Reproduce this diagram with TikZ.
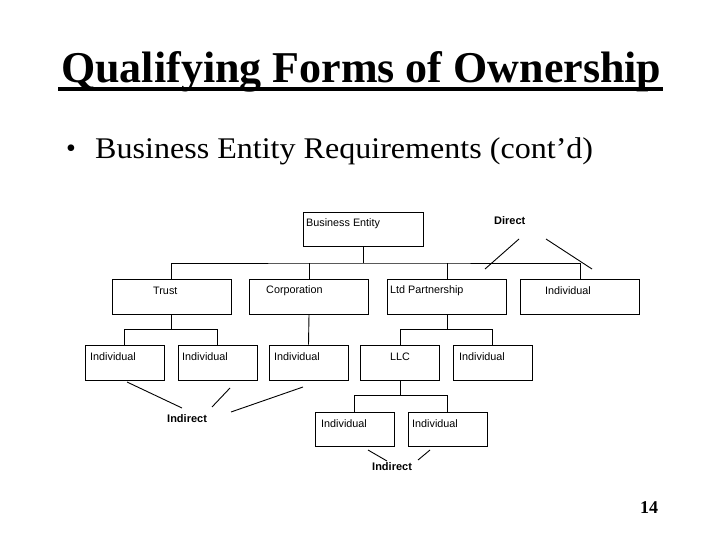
\documentclass[tikz,border=0pt]{standalone}
\usepackage{fontspec}
\setmainfont{Liberation Serif}
\newfontfamily\boxfont{Liberation Sans}
\usetikzlibrary{calc}

\tikzset{
  box/.style={draw, line width=0.9pt, minimum width=119pt, minimum height=35pt, inner sep=0pt},
  smallbox/.style={box, minimum width=79pt},
  boxtext/.style={inner sep=0pt, anchor=west, font=\boxfont\fontsize{10.8}{12}\selectfont},
  tag/.style={inner sep=0pt, anchor=west, font=\boxfont\bfseries\fontsize{11}{13}\selectfont},
  wire/.style={line width=0.9pt},
}

\begin{document}
\begin{tikzpicture}[x=1pt, y=-1pt]
		%%%%% PAGE %%%%%
		\useasboundingbox (0,0) rectangle (720,540);
		
		\node[anchor=base west, inner sep=0pt, font=\bfseries\fontsize{44}{50}\selectfont] (title) at (61,83) {Qualifying Forms of Ownership};
		\draw[line width=3.5pt] ($(title.base west)+(-3,6)$) -- ($(title.base east)+(1,6)$);
		
		\node[inner sep=0pt, font=\fontsize{28}{34}\selectfont] (bullet) at (71,151) {\textbullet};
		\node[anchor=base west, inner sep=0pt, font=\fontsize{30}{36}\selectfont] (sub) at (95,159) {\scalebox{1.069}[1]{Business Entity Requirements (cont’d)}};
		
		\node[anchor=base west, inner sep=0pt, font=\bfseries\fontsize{18}{20}\selectfont] (page) at (640,513) {14};
		
		%%%%% BOXES %%%%%
		\node[box, minimum width=120pt, minimum height=34pt] (be) at (363,229) {};
		
		\node[box] (trust) at (171.5,296.5) {};
		\node[box] (corp) at (309,296.5) {};
		\node[box] (ltdp) at (447,296.5) {};
		\node[box] (indr) at (580,296.5) {};
		
		\node[smallbox] (t1) at (124.5,362.5) {};
		\node[smallbox] (t2) at (217.5,362.5) {};
		\node[smallbox] (c1) at (308.5,362.5) {};
		\node[smallbox] (llc) at (400,362.5) {};
		\node[smallbox] (p1) at (492.5,362.5) {};
		
		\node[smallbox, minimum height=34pt] (l1) at (354.5,429) {};
		\node[smallbox, minimum height=34pt] (l2) at (447.5,429) {};
		
		%%%%% TEXTS %%%%%
		\node[boxtext] (be text) at (306,224) {Business Entity};
		\node[boxtext] (trust text) at (153,291) {Trust};
		\node[boxtext] (corp text) at (266,291) {Corporation};
		\node[boxtext] (ltdp text) at (390,291) {Ltd Partnership};
		\node[boxtext] (indr text) at (545,291) {Individual};
		\node[boxtext] (t1 text) at (90,357) {Individual};
		\node[boxtext] (t2 text) at (182,357) {Individual};
		\node[boxtext] (c1 text) at (274,357) {Individual};
		\node[boxtext] (llc text) at (390,357) {LLC};
		\node[boxtext] (p1 text) at (459,357) {Individual};
		\node[boxtext] (l1 text) at (321,424) {Individual};
		\node[boxtext] (l2 text) at (412,424) {Individual};
		
		\node[tag] (direct) at (494,221) {Direct};
		\node[tag] (indirect a) at (167,419) {Indirect};
		\node[tag] (indirect b) at (372,467) {Indirect};
		
		%%%%% TREE %%%%%
		\coordinate (bus) at (363,263);
		\draw[wire] (be.south) -- (bus);
		\draw[wire] (trust.north) |- (bus) -| (indr.north);
		\draw[wire] (corp.north) -- (corp.north |- bus);
		\draw[wire] (ltdp.north) -- (ltdp.north |- bus);
		
		\draw[wire] (trust.south) -- ++(0,15) coordinate (tj);
		\draw[wire] (t1.north) |- (tj) -| (t2.north);
		\draw[wire] (corp.south) -- (c1.north);
		\draw[wire] (ltdp.south) -- ++(0,15) coordinate (pj);
		\draw[wire] (llc.north) |- (pj) -| (p1.north);
		\draw[wire] (llc.south) -- ++(0,15) coordinate (lj);
		\draw[wire] (l1.north) |- (lj) -| (l2.north);
		
		%%%%% DIRECT / INDIRECT %%%%%
		\draw[wire] (519,239) -- (485,269);
		\draw[wire] (546,239) -- (592,269);
		
		\draw[wire] (127,382) -- (182,408);
		\draw[wire] (230,388) -- (212,407);
		\draw[wire] (303,387) -- (231,412);
		
		\draw[wire] (368,450) -- (387,461);
		\draw[wire] (430,450) -- (418,460);
		
		%%%%% END %%%%%
\end{tikzpicture}
\end{document}
